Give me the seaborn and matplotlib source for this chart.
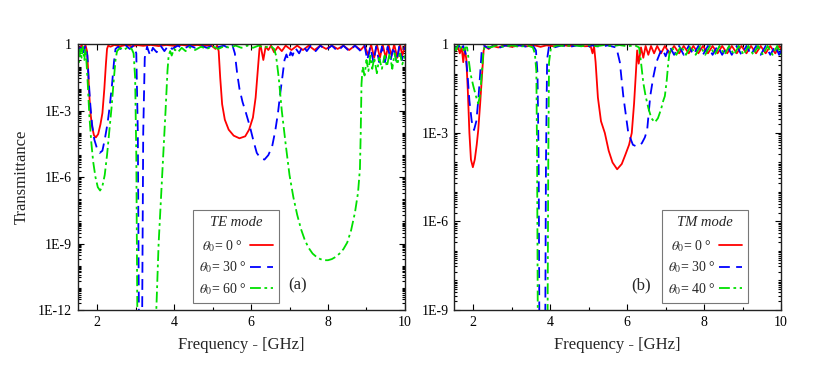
import numpy as np
import pandas as pd
import matplotlib
matplotlib.use("Agg")
import matplotlib.pyplot as plt
from matplotlib.ticker import FixedLocator, LogLocator, NullFormatter
import seaborn as sns

# ---------------- data: (frequency GHz, log10 transmittance) ----------------
te_0 = [(1.50,-0.05),(1.55,-0.20),(1.60,-0.02),(1.65,-0.25),(1.70,-0.03),(1.74,-0.30),(1.77,-1.2),(1.80,-2.3),
        (1.83,-3.1),(1.87,-3.7),(1.92,-4.1),(1.97,-4.2),(2.03,-4.05),(2.09,-3.6),(2.14,-3.1),(2.19,-2.0),
        (2.23,-0.9),(2.26,-0.2),(2.29,-0.05),(2.35,-0.10),(2.45,-0.02),(2.60,-0.08),(2.75,-0.02),(2.90,-0.08),
        (3.05,-0.03),(3.20,-0.06),(3.40,-0.02),(3.60,-0.07),(3.80,-0.02),(4.00,-0.06),(4.20,-0.02),(4.40,-0.06),
        (4.60,-0.02),(4.80,-0.06),(4.95,-0.02),(5.08,-0.20),(5.12,-0.05),(5.16,-0.30),(5.20,-1.5),(5.25,-2.7),
        (5.32,-3.4),(5.42,-3.85),(5.55,-4.12),(5.70,-4.24),(5.85,-4.15),(5.95,-3.85),(6.05,-3.3),(6.12,-2.4),
        (6.17,-1.3),(6.22,-0.2),(6.25,-0.05),(6.32,-0.70),(6.38,-0.10),(6.45,-0.25),(6.52,-0.05),(6.60,-0.35),
        (6.70,-0.10),(6.80,-0.30),(6.90,-0.05),(7.05,-0.25),(7.20,-0.05),(7.35,-0.25),(7.50,-0.05),(7.65,-0.25),
        (7.80,-0.05),(7.95,-0.20),(8.10,-0.05),(8.25,-0.20),(8.40,-0.05),(8.55,-0.25),(8.70,-0.05),(8.85,-0.25),
        (8.95,-0.05),(9.05,-0.50),(9.12,0.0),(9.20,-0.60),(9.27,0.0),(9.35,-0.60),(9.42,0.0),(9.50,-0.60),
        (9.57,0.0),(9.65,-0.50),(9.72,0.0),(9.80,-0.60),(9.87,0.0),(9.93,-0.50),(10.0,-0.05)]

te_30 = [(1.50,-0.02),(1.55,-0.30),(1.60,0.0),(1.65,-0.35),(1.70,-0.05),(1.75,-0.50),(1.78,-1.5),(1.82,-2.6),
         (1.87,-3.6),(1.93,-4.3),(2.00,-4.7),(2.07,-4.9),(2.14,-4.8),(2.20,-4.3),(2.27,-3.6),(2.33,-2.8),
         (2.39,-1.8),(2.44,-0.8),(2.48,-0.20),(2.55,-0.10),(2.65,-0.25),(2.75,-0.05),(2.85,-0.20),(2.95,-0.05),
         (3.02,-0.40),(3.06,-4.0),(3.09,-13),(3.17,-13),(3.20,-4.0),(3.24,-0.6),(3.30,-0.10),(3.38,-0.50),
         (3.45,-0.15),(3.55,-0.35),(3.65,-0.05),(3.75,-0.30),(3.85,-0.05),(3.95,-0.20),(4.10,-0.05),(4.25,-0.20),
         (4.40,-0.05),(4.55,-0.15),(4.70,-0.05),(4.85,-0.15),(5.00,-0.05),(5.15,-0.12),(5.30,-0.05),(5.45,-0.20),
         (5.52,-0.05),(5.58,-0.40),(5.64,-1.3),(5.70,-2.0),(5.78,-2.6),(5.87,-3.1),(5.97,-3.7),(6.07,-4.4),
         (6.15,-4.9),(6.25,-5.15),(6.35,-5.2),(6.45,-5.0),(6.55,-4.6),(6.63,-3.9),(6.70,-3.1),(6.76,-2.2),
         (6.82,-1.4),(6.87,-0.7),(6.92,-0.45),(6.97,-0.7),(7.03,-0.35),(7.08,-0.50),(7.15,-0.15),(7.25,-0.40),
         (7.35,-0.05),(7.45,-0.30),(7.55,-0.05),(7.68,-0.30),(7.80,-0.05),(7.95,-0.25),(8.10,-0.05),(8.25,-0.30),
         (8.40,-0.05),(8.55,-0.30),(8.70,-0.05),(8.85,-0.30),(8.95,-0.05),(9.02,-0.70),(9.10,-0.10),(9.18,-0.80),
         (9.25,-0.10),(9.33,-0.80),(9.40,-0.10),(9.48,-0.80),(9.55,-0.10),(9.63,-0.70),(9.70,-0.10),(9.78,-0.80),
         (9.85,-0.10),(9.92,-0.70),(10.0,-0.10)]

te_60 = [(1.50,-0.10),(1.53,-0.80),(1.57,-0.20),(1.60,-0.60),(1.63,-0.10),(1.67,-0.70),(1.70,-0.20),(1.73,-0.90),
         (1.76,-1.8),(1.80,-3.2),(1.85,-4.4),(1.90,-5.3),(1.96,-6.0),(2.02,-6.45),(2.08,-6.6),(2.14,-6.4),
         (2.20,-5.9),(2.26,-5.0),(2.32,-3.9),(2.38,-2.8),(2.43,-1.7),(2.48,-0.7),(2.52,-0.30),(2.60,-0.15),
         (2.70,-0.25),(2.80,-0.12),(2.90,-0.20),(2.95,-0.40),(2.99,-1.5),(3.02,-5.0),(3.05,-13),(3.50,-13),
         (3.53,-12.5),(3.60,-9.0),(3.69,-6.0),(3.78,-3.0),(3.83,-1.2),(3.86,-0.5),(3.90,-0.30),(3.94,-0.50),
         (4.00,-0.20),(4.10,-0.35),(4.20,-0.15),(4.30,-0.30),(4.40,-0.12),(4.55,-0.25),(4.70,-0.10),(4.85,-0.20),
         (5.00,-0.08),(5.15,-0.20),(5.30,-0.08),(5.45,-0.15),(5.60,-0.05),(5.75,-0.15),(5.90,-0.05),(6.05,-0.15),
         (6.20,-0.05),(6.35,-0.15),(6.50,-0.05),(6.60,-0.20),(6.65,-0.50),(6.72,-1.5),(6.80,-3.0),(6.90,-4.5),
         (7.00,-5.9),(7.10,-6.9),(7.20,-7.7),(7.30,-8.35),(7.40,-8.85),(7.50,-9.2),(7.60,-9.45),(7.70,-9.6),
         (7.80,-9.7),(7.90,-9.75),(8.00,-9.75),(8.10,-9.7),(8.20,-9.6),(8.30,-9.45),(8.40,-9.25),(8.50,-8.95),
         (8.60,-8.4),(8.70,-7.6),(8.78,-6.7),(8.83,-5.6),(8.85,-4.0),(8.87,-1.8),(8.90,-1.0),(8.95,-1.4),
         (9.00,-0.70),(9.05,-1.2),(9.10,-0.50),(9.15,-1.1),(9.20,-0.60),(9.27,-1.3),(9.33,-0.60),(9.40,-1.1),
         (9.47,-0.50),(9.53,-1.0),(9.60,-0.40),(9.67,-1.1),(9.73,-0.40),(9.80,-0.90),(9.87,-0.40),(9.93,-0.90),
         (10.0,-0.50)]

tm_0 = [(1.50,-0.05),(1.55,-0.20),(1.60,-0.05),(1.65,-0.30),(1.70,-0.10),(1.74,-0.60),(1.78,-0.15),(1.82,-0.50),
        (1.86,-1.6),(1.90,-3.0),(1.94,-3.9),(1.99,-4.16),(2.04,-3.9),(2.09,-3.4),(2.13,-2.9),(2.18,-2.0),
        (2.23,-1.0),(2.27,-0.2),(2.30,-0.05),(2.40,-0.15),(2.50,-0.05),(2.65,-0.10),(2.80,-0.03),(3.00,-0.08),
        (3.20,-0.03),(3.40,-0.06),(3.60,-0.03),(3.75,-0.08),(3.90,-0.03),(4.10,-0.06),(4.30,-0.02),(4.50,-0.05),
        (4.70,-0.02),(4.90,-0.06),(5.05,-0.05),(5.10,-0.30),(5.14,-0.05),(5.18,-0.60),(5.24,-1.8),(5.32,-2.6),
        (5.42,-3.0),(5.52,-3.6),(5.62,-4.0),(5.74,-4.23),(5.86,-4.05),(5.95,-3.75),(6.05,-3.4),(6.12,-3.0),
        (6.18,-2.0),(6.23,-0.9),(6.26,-0.2),(6.30,-0.65),(6.36,-0.10),(6.42,-0.45),(6.48,-0.05),(6.55,-0.35),
        (6.62,-0.05),(6.70,-0.30),(6.78,-0.05),(6.88,-0.30),(6.98,-0.05),(7.10,-0.30),(7.22,-0.05),(7.35,-0.30),
        (7.47,-0.05),(7.60,-0.30),(7.72,-0.05),(7.85,-0.30),(7.97,-0.05),(8.10,-0.30),(8.22,-0.05),(8.35,-0.30),
        (8.47,-0.05),(8.60,-0.30),(8.72,-0.05),(8.85,-0.30),(8.97,-0.05),(9.10,-0.30),(9.22,-0.05),(9.35,-0.30),
        (9.47,-0.05),(9.60,-0.30),(9.72,-0.05),(9.85,-0.30),(9.95,-0.05),(10.0,-0.15)]

tm_30 = [(1.50,-0.05),(1.56,-0.15),(1.62,-0.02),(1.68,-0.20),(1.74,-0.05),(1.80,-0.30),(1.85,-1.0),(1.90,-1.9),
         (1.96,-2.6),(2.02,-2.9),(2.08,-2.6),(2.13,-1.9),(2.18,-1.0),(2.22,-0.2),(2.28,-0.05),(2.40,-0.12),
         (2.55,-0.03),(2.70,-0.10),(2.85,-0.03),(3.00,-0.08),(3.20,-0.03),(3.40,-0.08),(3.55,-0.03),(3.63,-0.20),
         (3.67,-1.0),(3.70,-4.0),(3.72,-10),(3.87,-10),(3.89,-4.0),(3.92,-0.5),(3.97,-0.05),(4.10,-0.10),
         (4.30,-0.03),(4.50,-0.08),(4.70,-0.03),(4.90,-0.08),(5.10,-0.03),(5.30,-0.08),(5.50,-0.03),(5.65,-0.08),
         (5.72,-0.10),(5.81,-0.6),(5.90,-1.75),(6.03,-3.0),(6.15,-3.4),(6.25,-3.46),(6.38,-3.35),(6.46,-3.15),
         (6.52,-2.9),(6.60,-1.75),(6.68,-1.1),(6.76,-0.6),(6.85,-0.30),(6.92,-0.15),(7.00,-0.40),(7.10,-0.05),
         (7.22,-0.35),(7.35,-0.05),(7.47,-0.35),(7.60,-0.05),(7.72,-0.35),(7.85,-0.05),(7.97,-0.35),(8.10,-0.05),
         (8.22,-0.35),(8.35,-0.05),(8.47,-0.35),(8.60,-0.05),(8.72,-0.35),(8.85,-0.05),(8.97,-0.35),(9.10,-0.05),
         (9.22,-0.35),(9.35,-0.05),(9.47,-0.35),(9.60,-0.05),(9.72,-0.35),(9.85,-0.05),(9.95,-0.35),(10.0,-0.20)]

tm_40 = [(1.50,-0.05),(1.55,-0.20),(1.60,-0.03),(1.65,-0.15),(1.70,-0.05),(1.75,-0.20),(1.80,-0.10),(1.84,-0.10),
         (1.88,-0.5),(1.93,-1.0),(2.00,-1.4),(2.07,-1.75),(2.13,-2.0),(2.18,-1.7),(2.22,-1.0),(2.26,-0.3),
         (2.30,-0.05),(2.45,-0.10),(2.60,-0.03),(2.80,-0.08),(3.00,-0.03),(3.20,-0.08),(3.40,-0.03),(3.55,-0.10),
         (3.60,-0.30),(3.64,-0.9),(3.66,-4.0),(3.68,-10),(3.93,-10),(3.95,-4.0),(3.97,-0.6),(4.02,-0.10),
         (4.20,-0.03),(4.40,-0.06),(4.60,-0.02),(4.80,-0.06),(5.00,-0.02),(5.20,-0.06),(5.40,-0.02),(5.60,-0.06),
         (5.80,-0.02),(6.00,-0.06),(6.20,-0.03),(6.31,-0.10),(6.36,-0.6),(6.42,-1.3),(6.48,-1.75),(6.55,-2.15),
         (6.63,-2.5),(6.72,-2.64),(6.80,-2.5),(6.88,-2.2),(6.94,-1.9),(6.98,-1.75),(7.03,-1.2),(7.07,-0.6),
         (7.10,-0.30),(7.16,-0.10),(7.28,-0.35),(7.40,-0.05),(7.53,-0.35),(7.65,-0.05),(7.78,-0.35),(7.90,-0.05),
         (8.03,-0.35),(8.15,-0.05),(8.28,-0.35),(8.40,-0.05),(8.53,-0.35),(8.65,-0.05),(8.78,-0.35),(8.90,-0.05),
         (9.03,-0.35),(9.15,-0.05),(9.28,-0.35),(9.40,-0.05),(9.53,-0.35),(9.65,-0.05),(9.78,-0.35),(9.90,-0.05),
         (10.0,-0.35)]

te_labels = ["0", "30", "60"]
tm_labels = ["0", "30", "40"]
y_tick_exp_te = [0, -3, -6, -9, -12]
y_tick_exp_tm = [0, -3, -6, -9]
x_ticks = [2, 4, 6, 8, 10]

# ---------------- styling ----------------
sns.set_theme(style="ticks")
plt.rcParams["font.family"] = ["Liberation Serif", "DejaVu Serif"]
plt.rcParams["mathtext.fontset"] = "stix"

colors = ["#ff0000", "#0000ff", "#00e000"]
dash_styles = [None, (6, 3.5), (6, 2, 1.5, 2)]

def to_frame(pairs):
    arr = np.array(pairs, dtype=float)
    return pd.DataFrame({"freq": arr[:, 0], "T": 10.0 ** arr[:, 1]})

fig = plt.figure(figsize=(8.17, 3.72), dpi=100)
ax_te = fig.add_axes([0.0952, 0.1667, 0.4005, 0.7137])
ax_tm = fig.add_axes([0.5557, 0.1667, 0.4003, 0.7137])

panels = [
    (ax_te, [te_0, te_30, te_60], te_labels, "TE mode", y_tick_exp_te, "(a)", 0.673, 0.352),
    (ax_tm, [tm_0, tm_30, tm_40], tm_labels, "TM mode", y_tick_exp_tm, "(b)", 0.572, 0.636),
]

for ax, curves, labels, title, yexp, tag, tag_x, leg_x in panels:
    handles = []
    for pairs, col, dsh in zip(curves, colors, dash_styles):
        df = to_frame(pairs)
        sns.lineplot(data=df, x="freq", y="T", ax=ax, color=col, lw=1.3,
                     sort=False, estimator=None, legend=False)
        line = ax.lines[-1]
        if dsh is not None:
            line.set_dashes(dsh)
        handles.append(line)
    ax.set_yscale("log")
    ax.set_xlim(1.5, 10)
    ax.set_ylim(10.0 ** min(yexp), 1.0)
    ax.yaxis.set_major_locator(FixedLocator([10.0 ** e for e in yexp]))
    ax.set_yticklabels(["1" if e == 0 else f"1E{e}" for e in yexp])
    ax.yaxis.set_minor_locator(LogLocator(base=10, subs=np.arange(1, 10), numticks=200))
    ax.yaxis.set_minor_formatter(NullFormatter())
    ax.xaxis.set_major_locator(FixedLocator(x_ticks))
    ax.xaxis.set_minor_locator(FixedLocator([3, 5, 7, 9]))
    ax.set_xticklabels([str(v) for v in x_ticks])
    ax.tick_params(which="both", direction="in", top=True, right=True, colors="black",
                   labelsize=10, width=0.8)
    ax.tick_params(which="major", length=4.5, pad=4)
    ax.tick_params(which="minor", length=2.5)
    for sp in ax.spines.values():
        sp.set_color("#222222")
        sp.set_linewidth(1.0)
    ax.set_xlabel("Frequency - [GHz]", fontsize=12, labelpad=6)
    ax.set_ylabel("")
    # trailing spaces keep the label text left-aligned (entries are right-aligned with the handle last)
    leg_labels = [r"$\theta_{\mathit{0}}$" + f"= {a} °" + ("  " if len(a) == 1 else "")
                  for a in labels]
    leg = ax.legend(handles, leg_labels, title=title, markerfirst=False, loc="lower left",
                    bbox_to_anchor=(leg_x, 0.026), borderaxespad=0.0,
                    frameon=True, fancybox=False, edgecolor="#777777", framealpha=1,
                    handlelength=1.6, handletextpad=0.25, labelspacing=0.42, borderpad=0.45,
                    fontsize=10, title_fontproperties={"style": "italic", "size": 10.5})
    leg.get_frame().set_linewidth(0.8)
    leg._legend_box.sep = 6
    ax.text(tag_x, 0.094, tag, transform=ax.transAxes, fontsize=12, ha="center", va="center")

ax_te.set_ylabel("Transmittance", fontsize=12, labelpad=6)

fig.savefig("out.png", dpi=100)
